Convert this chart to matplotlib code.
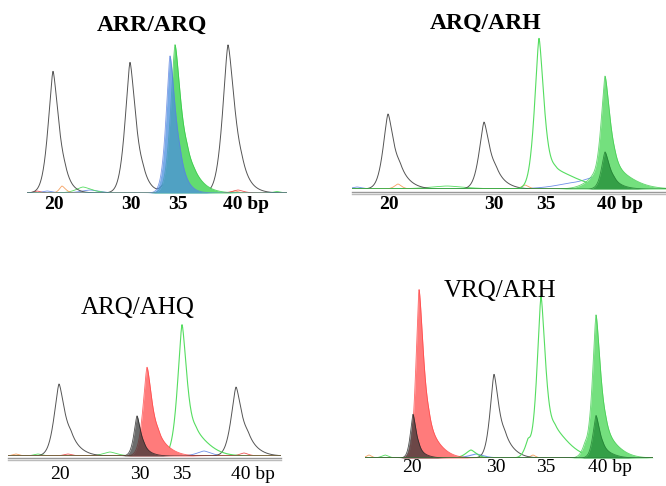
"""
Four capillary electropherograms (PRNP genotypes), one panel per sample.
Peaks are listed as (centre, height, left half-width, right half-width)
in scan units along each trace; heights in relative fluorescence.
"""
import numpy as np
import matplotlib
matplotlib.use("Agg")
import matplotlib.pyplot as plt

plt.rcParams["font.family"] = ["Liberation Serif", "DejaVu Serif"]

# ---- Data ----
TICK_LABELS = ["20", "30", "35", "40 bp"]

# ARR/ARQ
ARR_TICKS = [27, 104, 151, 219]
ARR_BLACK = [(26, 121, 5.5, 6.5), (38, 9, 5, 9), (103, 130, 5.5, 6.5), (116, 11, 5, 9),
             (201, 147, 6, 7.5), (215, 13, 6, 11), (136, 7, 3, 4)]
ARR_GREEN = [(148, 145, 5, 6.5), (160, 20, 6, 10), (167, 8, 8, 14)]
ARR_BLUE = [(143, 135, 4.5, 6), (153, 16, 5, 9)]
ARR_NOISE_ORANGE = [(35, 7, 3, 4), (208, 2, 4, 4)]
ARR_NOISE_GREEN = [(56, 6, 8, 10), (250, 1.5, 4, 4)]
ARR_NOISE_BLUE = [(63, 3, 10, 10), (20, 2, 6, 6)]
ARR_NOISE_RED = [(211, 3, 6, 6), (10, 2, 4, 4)]

# ARQ/ARH
ARH_TICKS = [37, 142, 194, 268]
ARH_BLACK = [(36, 74, 5.5, 6.5), (48, 14, 5, 11), (132, 66, 5.5, 6.5), (144, 12, 5, 11)]
ARH_GREEN_LINE = [(187, 146, 5, 5.5), (203, 19, 10, 24)]
ARH_GREEN = [(253, 102, 4.5, 5.5), (263, 20, 9, 18), (240, 9, 10, 8)]
ARH_DARK = [(253, 36, 4, 5), (262, 6, 5, 10)]
ARH_NOISE_BLUE = [(244, 11, 15, 10), (215, 4, 20, 20), (5, 2, 6, 6)]
ARH_NOISE_ORANGE = [(46, 5, 4, 4), (173, 4, 4, 4)]
ARH_NOISE_GREEN = [(95, 3, 20, 20)]

# ARQ/AHQ
AHQ_TICKS = [52, 132, 174, 245]
AHQ_BLACK = [(51, 71, 5.5, 6.5), (63, 13, 5, 11), (228, 68, 5.5, 6.5), (240, 13, 5, 11)]
AHQ_GREEN_LINE = [(174, 127, 5, 5.5), (188, 22, 8, 14)]
AHQ_RED = [(139, 86, 4.5, 5.5), (150, 16, 6, 12)]
AHQ_GRAY = [(129, 39, 3.5, 4), (136, 6, 4, 8)]
AHQ_NOISE_BLUE = [(196, 5, 8, 8)]
AHQ_NOISE_RED = [(236, 3, 5, 5), (60, 2, 5, 5)]
AHQ_NOISE_GREEN = [(102, 4, 8, 8), (30, 2, 5, 5)]
AHQ_NOISE_ORANGE = [(8, 2, 4, 4)]

# VRQ/ARH
VRQ_TICKS = [47, 131, 181, 245]
VRQ_RED = [(54, 163, 3.5, 5), (64, 25, 6, 12)]
VRQ_GRAY = [(48, 43, 3, 3.5), (54, 6, 3, 8)]
VRQ_BLACK = [(129, 82, 4.5, 5.5), (140, 16, 5, 10)]
VRQ_GREEN_LINE = [(176, 156, 4.5, 5), (163, 14, 4, 3), (190, 28, 8, 15), (106, 8, 6, 6)]
VRQ_GREEN = [(231, 136, 4, 5), (241, 22, 7, 13), (220, 10, 4, 4)]
VRQ_DARK = [(231, 40, 3.5, 4), (238, 8, 5, 10)]
VRQ_NOISE_BLUE = [(111, 4, 8, 8)]
VRQ_NOISE_ORANGE = [(4, 3, 3, 3), (168, 3, 3, 3)]
VRQ_NOISE_GREEN = [(20, 3, 4, 4)]

# ---- Layout (pixels on a 666 x 486 canvas) ----
W_PX, H_PX = 666, 486


def trace(x, comps):
    y = np.zeros_like(x)
    for c, h, wl, wr in comps:
        dx = x - c
        w = np.where(dx < 0, wl, wr)
        y += h * np.exp(-np.log(2) * np.abs(dx / w) ** 1.5)
    return y


def make_axes(fig, left, right, base, top):
    ax = fig.add_axes([left / W_PX, 1 - base / H_PX,
                       (right - left) / W_PX, (base - top) / H_PX])
    ax.set_xlim(0, right - left)
    ax.set_ylim(0, base - top)
    for s in ax.spines.values():
        s.set_visible(False)
    ax.set_yticks([])
    return ax


def line(ax, x, comps, color, lw=0.7, z=2):
    ax.plot(x, trace(x, comps), color=color, lw=lw, zorder=z)


def filled(ax, x, comps, color, edge, alpha=1.0, z=3):
    y = trace(x, comps)
    ax.fill_between(x, 0, y, color=color, alpha=alpha, lw=0, zorder=z)
    ax.plot(x, y, color=edge, lw=0.6, alpha=0.8, zorder=z)


def ticks(ax, pos, pad, weight):
    ax.set_xticks(pos, TICK_LABELS, fontsize=14, fontweight=weight)
    ax.tick_params(axis="x", length=0, pad=pad)


fig = plt.figure(figsize=(W_PX / 100, H_PX / 100), dpi=100)

BLACK = "#555555"
GREEN_LINE = "#55dd60"
GREEN_FILL = "#74e07e"
DARK_GREEN = "#1f8a35"
RED_FILL = "#ff7b7b"
BLUE = "#6f8fe8"
ORANGE = "#f5a060"
RED = "#ee5555"

# Panel 1: ARR/ARQ
ax = make_axes(fig, 27, 287, 193, 30)
x = np.linspace(0, 260, 1200)
for comps, c in [(ARR_NOISE_BLUE, BLUE), (ARR_NOISE_GREEN, GREEN_LINE),
                 (ARR_NOISE_ORANGE, ORANGE), (ARR_NOISE_RED, RED)]:
    line(ax, x, comps, c, lw=0.6, z=1)
line(ax, x, ARR_BLACK, BLACK)
filled(ax, x, ARR_GREEN, "#62dc70", "#2ec83e")
filled(ax, x, ARR_BLUE, "#4a8ee0", "#5a80e0", alpha=0.75, z=4)
ax.text(125, 193 - 25, "ARR/ARQ", ha="center", va="center",
        fontsize=17, fontweight="bold")
ticks(ax, ARR_TICKS, 2, "bold")

# Panel 2: ARQ/ARH
ax = make_axes(fig, 352, 666, 189, 30)
x = np.linspace(0, 314, 1400)
ax.axhline(0, color="#333344", lw=0.8, zorder=1)
for comps, c in [(ARH_NOISE_BLUE, BLUE), (ARH_NOISE_GREEN, GREEN_LINE),
                 (ARH_NOISE_ORANGE, ORANGE)]:
    line(ax, x, comps, c, lw=0.6, z=1)
line(ax, x, ARH_BLACK, BLACK)
line(ax, x, ARH_GREEN_LINE, GREEN_LINE, lw=0.8)
filled(ax, x, ARH_GREEN, GREEN_FILL, "#3ccc4a")
filled(ax, x, ARH_DARK, DARK_GREEN, "#1f7a30", alpha=0.75, z=4)
for yy, c in [(-2.7, "#999999"), (-5, "#bbbbbb")]:
    ax.plot([0, 314], [yy, yy], color=c, lw=1, clip_on=False)
ax.text(134, 189 - 23, "ARQ/ARH", ha="center", va="center",
        fontsize=17, fontweight="bold")
ticks(ax, ARH_TICKS, 5, "bold")

# Panel 3: ARQ/AHQ
ax = make_axes(fig, 8, 281, 456, 290)
x = np.linspace(0, 273, 1200)
ax.axhline(0, color="#8899cc", lw=0.7, zorder=1)
for comps, c in [(AHQ_NOISE_BLUE, BLUE), (AHQ_NOISE_GREEN, GREEN_LINE),
                 (AHQ_NOISE_RED, RED), (AHQ_NOISE_ORANGE, ORANGE)]:
    line(ax, x, comps, c, lw=0.6, z=1)
line(ax, x, AHQ_BLACK, BLACK)
line(ax, x, AHQ_GREEN_LINE, GREEN_LINE, lw=0.8)
filled(ax, x, AHQ_RED, RED_FILL, "#ff4040")
filled(ax, x, AHQ_GRAY, "#333333", "#222222", alpha=0.72, z=4)
for yy, c in [(-2, "#999999"), (-4.2, "#bbbbbb")]:
    ax.plot([0, 273], [yy, yy], color=c, lw=1, clip_on=False)
ax.text(130, 456 - 308, "ARQ/AHQ", ha="center", va="center", fontsize=18)
ticks(ax, AHQ_TICKS, 7, "normal")

# Panel 4: VRQ/ARH
ax = make_axes(fig, 365, 653, 458, 280)
x = np.linspace(0, 288, 1300)
for comps, c in [(VRQ_NOISE_GREEN, GREEN_LINE), (VRQ_NOISE_ORANGE, ORANGE)]:
    line(ax, x, comps, c, lw=0.6, z=1)
line(ax, x, VRQ_NOISE_BLUE, "#7799ee", lw=0.8, z=1)
line(ax, x, VRQ_BLACK, BLACK)
line(ax, x, VRQ_GREEN_LINE, GREEN_LINE, lw=0.8)
filled(ax, x, VRQ_RED, RED_FILL, "#ff4040")
filled(ax, x, VRQ_GRAY, "#333333", "#222222", alpha=0.72, z=4)
filled(ax, x, VRQ_GREEN, GREEN_FILL, "#3ccc4a")
filled(ax, x, VRQ_DARK, DARK_GREEN, "#1f7a30", alpha=0.75, z=4)
ax.text(135, 458 - 291, "VRQ/ARH", ha="center", va="center", fontsize=18)
ticks(ax, VRQ_TICKS, 1, "normal")

fig.savefig("out.png", dpi=100, facecolor="white")
